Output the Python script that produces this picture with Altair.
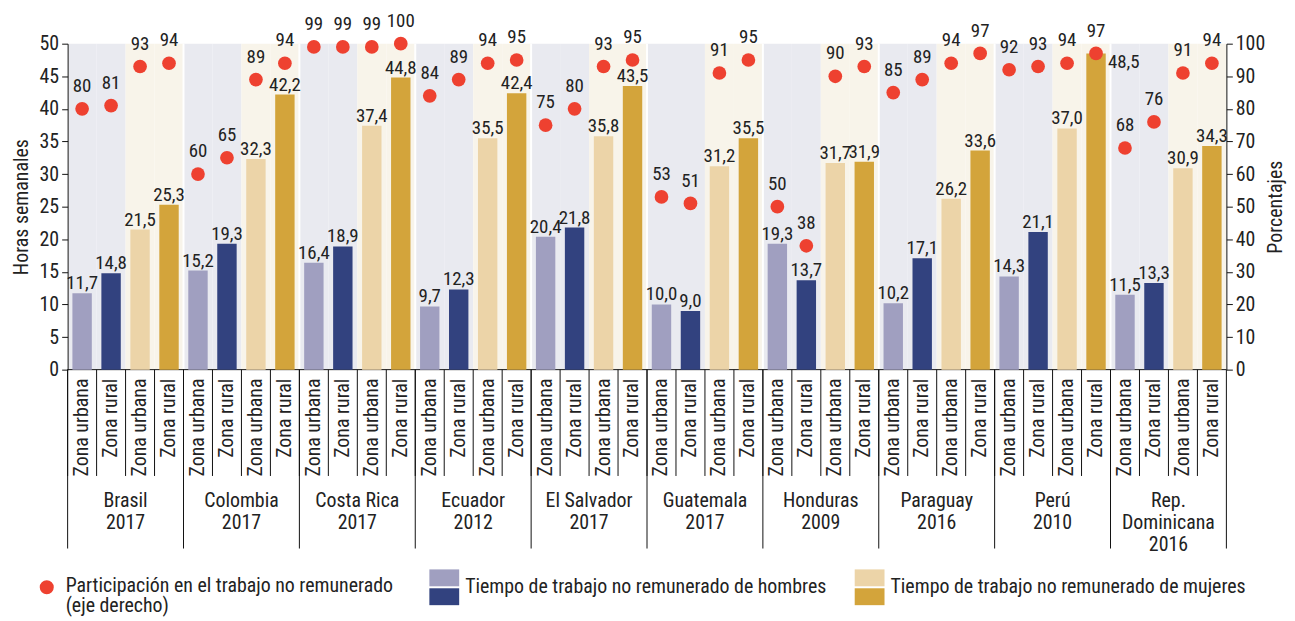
import altair as alt
import pandas as pd

countries = ["Brasil", "Colombia", "Costa Rica", "Ecuador", "El Salvador",
             "Guatemala", "Honduras", "Paraguay", "Perú", "Rep.\nDominicana"]
years = ["2017", "2017", "2017", "2012", "2017", "2017", "2009", "2016", "2010", "2016"]

men_urban = [11.7, 15.2, 16.4, 9.7, 20.4, 10.0, 19.3, 10.2, 14.3, 11.5]
men_rural = [14.8, 19.3, 18.9, 12.3, 21.8, 9.0, 13.7, 17.1, 21.1, 13.3]
women_urban = [21.5, 32.3, 37.4, 35.5, 35.8, 31.2, 31.7, 26.2, 37.0, 30.9]
women_rural = [25.3, 42.2, 44.8, 42.4, 43.5, 35.5, 31.9, 33.6, 48.5, 34.3]

part_men_urban = [80, 60, 99, 84, 75, 53, 50, 85, 92, 68]
part_men_rural = [81, 65, 99, 89, 80, 51, 38, 89, 93, 76]
part_women_urban = [93, 89, 99, 94, 93, 91, 90, 94, 94, 91]
part_women_rural = [94, 94, 100, 95, 95, 95, 93, 97, 97, 94]

series_names = ["HU", "HR", "MU", "MR"]
zones = ["Zona urbana", "Zona rural", "Zona urbana", "Zona rural"]
series_colors = ["#a09fc0", "#32427f", "#ecd4a8", "#d3a43b"]
bg_colors = {"H": "#e9eaf0", "M": "#f8f4ea"}

legend_point = "Participación en el trabajo no remunerado\n(eje derecho)"
legend_men = "Tiempo de trabajo no remunerado de hombres"
legend_women = "Tiempo de trabajo no remunerado de mujeres"

FONT = "Roboto Condensed, Roboto"
FS = 20
LFS = 19
TXT = "#222"
W, H = 1166, 328

rows = []
hours_lists = [men_urban, men_rural, women_urban, women_rural]
part_lists = [part_men_urban, part_men_rural, part_women_urban, part_women_rural]
for i, c in enumerate(countries):
    for j, s in enumerate(series_names):
        h = hours_lists[j][i]
        p = part_lists[j][i]
        rows.append({
            "key": f"{i:02d}|{s}",
            "zone": zones[j],
            "country": c + "\n" + years[i],
            "series": s,
            "bg": bg_colors[s[0]],
            "hours": h,
            "hlabel": f"{h:.1f}".replace(".", ","),
            "pct": p,
            "ph": p / 2,
            "plabel": str(p),
        })
df = pd.DataFrame(rows)
keys = list(df["key"])
side_key = keys[-5]

xs = alt.Scale(domain=keys, paddingInner=0, paddingOuter=0)


def xn(bp=None):
    if bp is None:
        return alt.X("key:N", scale=xs, axis=None, sort=keys)
    return alt.X("key:N", scale=xs, axis=None, sort=keys, bandPosition=bp)


ys = alt.Scale(domain=[0, 50])
YN = alt.Y("hours:Q", scale=ys, axis=None)

base = alt.Chart(df)

bg = base.mark_bar(width=alt.RelativeBandSize(1)).encode(
    x=xn(), y=alt.value(0), y2=alt.value(H), fill=alt.Fill("bg:N", scale=None)
)
sep = base.transform_filter(alt.datum.series == "HU").mark_rule(
    color="white", strokeWidth=2
).encode(x=xn(0), y=alt.value(0), y2=alt.value(H))

# x axis built from marks: bar separators, zone labels, country separators and labels
bar_ticks = base.mark_rule(color="#111", strokeWidth=1).encode(
    x=xn(0), y=alt.value(H), y2=alt.value(H + 107))
zone_labels = base.mark_text(angle=270, align="right", baseline="middle", fontSize=FS,
                             font=FONT, color=TXT).encode(
    x=xn(), y=alt.value(H + 9), text="zone:N")
cty_rules = base.transform_filter(alt.datum.series == "HU").mark_rule(
    color="#111", strokeWidth=1
).encode(x=xn(0), y=alt.value(H), y2=alt.value(H + 180))
last_rule = base.transform_filter(alt.datum.key == keys[-1]).mark_rule(
    color="#111", strokeWidth=1
).encode(x=xn(1), y=alt.value(H), y2=alt.value(H + 180))
cty_labels = base.transform_filter(alt.datum.series == "MU").mark_text(
    lineBreak="\n", baseline="top", align="center", fontSize=FS, font=FONT,
    color=TXT, lineHeight=22
).encode(x=xn(0), y=alt.value(H + 122), text="country:N")
domain_line = base.transform_filter(alt.datum.key == keys[0]).mark_rule(
    color="#111", strokeWidth=1
).encode(x=alt.value(0), x2=alt.value(W), y=alt.value(H))

axis_common = dict(grid=False, tickSize=6, tickColor="#111", domainColor="#111",
                   labelFontSize=FS, labelColor=TXT, labelFont=FONT,
                   titleFontSize=FS, titleFont=FONT, titleFontWeight="normal",
                   titleColor=TXT, labelPadding=3, zindex=1)

bars = base.mark_bar(width=alt.RelativeBandSize(0.67)).encode(
    x=xn(),
    y=alt.Y("hours:Q", scale=ys,
            axis=alt.Axis(orient="left", values=list(range(0, 51, 5)),
                          title="Horas semanales", titlePadding=8, **axis_common)),
    color=alt.Color("series:N", scale=alt.Scale(domain=series_names, range=series_colors),
                    legend=None),
)
bar_labels = base.transform_filter(alt.datum.key != side_key).mark_text(
    baseline="alphabetic", dy=-4, fontSize=LFS, font=FONT, color=TXT
).encode(x=xn(), y=YN, text="hlabel:N")
bar_label_side = base.transform_filter(alt.datum.key == side_key).mark_text(
    baseline="top", align="left", dx=12, dy=0, fontSize=LFS, font=FONT, color=TXT
).encode(x=xn(), y=YN, text="hlabel:N")

dots = base.mark_circle(size=190, color="#ee4130", opacity=1).encode(
    x=xn(),
    y=alt.Y("ph:Q", scale=ys,
            axis=alt.Axis(orient="right", values=list(range(0, 51, 5)),
                          labelExpr="datum.value * 2", title="Porcentajes",
                          titleAngle=270, titlePadding=21, **axis_common)),
)
dot_labels = base.mark_text(baseline="middle", dy=-23, fontSize=LFS, font=FONT,
                            color=TXT).encode(
    x=xn(), y=alt.Y("ph:Q", scale=ys, axis=None), text="plabel:N")

one = pd.DataFrame({"t": [legend_point], "m": [legend_men], "w": [legend_women]})
lb = alt.Chart(one)
LY = 546
lg_dot = lb.mark_circle(size=200, color="#ee4130", opacity=1).encode(
    x=alt.value(-21), y=alt.value(LY + 1))
lg_t1 = lb.mark_text(align="left", baseline="middle", lineBreak="\n", fontSize=FS,
                     font=FONT, color=TXT, lineHeight=20).encode(
    x=alt.value(-2), y=alt.value(LY), text="t:N")
lg_sq1 = lb.mark_rect(color=series_colors[0]).encode(
    x=alt.value(364), x2=alt.value(394), y=alt.value(LY - 17), y2=alt.value(LY))
lg_sq2 = lb.mark_rect(color=series_colors[1]).encode(
    x=alt.value(364), x2=alt.value(394), y=alt.value(LY + 2), y2=alt.value(LY + 19))
lg_t2 = lb.mark_text(align="left", baseline="middle", fontSize=FS, font=FONT,
                     color=TXT).encode(x=alt.value(400), y=alt.value(LY + 1), text="m:N")
lg_sq3 = lb.mark_rect(color=series_colors[2]).encode(
    x=alt.value(792), x2=alt.value(822), y=alt.value(LY - 17), y2=alt.value(LY))
lg_sq4 = lb.mark_rect(color=series_colors[3]).encode(
    x=alt.value(792), x2=alt.value(822), y=alt.value(LY + 2), y2=alt.value(LY + 19))
lg_t3 = lb.mark_text(align="left", baseline="middle", fontSize=FS, font=FONT,
                     color=TXT).encode(x=alt.value(828), y=alt.value(LY + 1), text="w:N")

chart = alt.layer(
    bg, sep, bar_ticks, zone_labels, cty_rules, last_rule, cty_labels, domain_line,
    bars, bar_labels, bar_label_side, dots, dot_labels,
    lg_dot, lg_t1, lg_sq1, lg_sq2, lg_t2, lg_sq3, lg_sq4, lg_t3
).resolve_axis(y="independent").properties(
    width=W, height=H,
    autosize=alt.AutoSizeParams(type="none"),
    padding={"left": 60, "top": 34, "right": 61, "bottom": 247},
).configure_view(stroke=None)

chart.save("out.html", embed_options={"renderer": "svg", "actions": False})
